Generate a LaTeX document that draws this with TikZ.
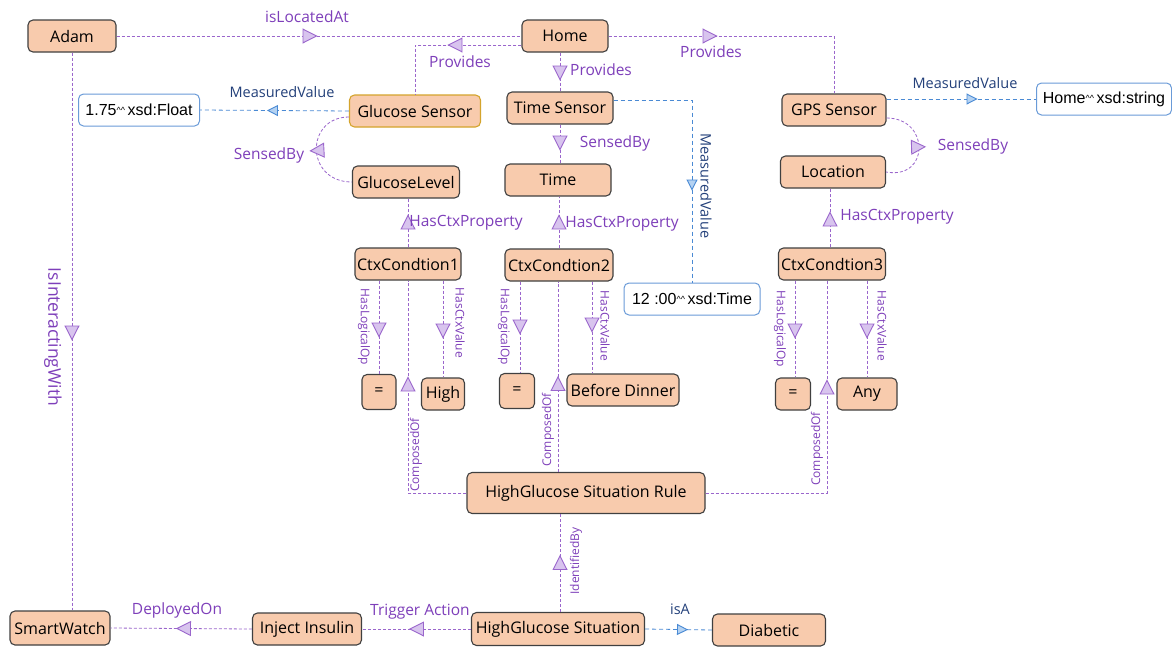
\documentclass[tikz,border=0pt]{standalone}
\usepackage{fontspec}
\setmainfont{Open Sans}
\newfontfamily\litfont{Liberation Sans}
\usetikzlibrary{arrows.meta,decorations.markings}

\definecolor{entityfill}{HTML}{F8CBAD}
\definecolor{entityline}{HTML}{404040}
\definecolor{sensorline}{HTML}{D4A42C}
\definecolor{literalline}{HTML}{6A9BD8}
\definecolor{linkpurple}{HTML}{9A66CC}
\definecolor{textpurple}{HTML}{7E3FBA}
\definecolor{tippurple}{HTML}{D8C4EE}
\definecolor{linkblue}{HTML}{4A8AD4}
\definecolor{tipblue}{HTML}{B4D2F2}
\definecolor{textnavy}{HTML}{23407A}

\newcommand{\dblcaret}{\raisebox{0.25ex}{\fontsize{9}{9}\selectfont\textasciicircum\textasciicircum}\,}

\tikzset{
  entity/.style={rectangle,rounded corners=5pt,draw=entityline,line width=1.1pt,
    fill=entityfill,minimum height=32pt,inner sep=1pt,font=\fontsize{16}{18}\selectfont},
  literal/.style={rectangle,rounded corners=5pt,draw=literalline,line width=1pt,
    fill=white,minimum height=32pt,inner sep=1pt,font=\litfont\fontsize{16}{18}\selectfont},
  ptri/.tip={Triangle[length=15pt,width=15pt,fill=tippurple,line width=0.9pt]},
  btri/.tip={Triangle[length=11pt,width=11pt,fill=tipblue,line width=0.9pt]},
  pedge/.style={draw=linkpurple,line width=0.8pt,densely dashed},
  bedge/.style={draw=linkblue,line width=0.8pt,dash pattern=on 4pt off 3pt},
  ptip/.style={postaction={decorate,decoration={markings,
    mark=at position #1 with {\arrow{ptri}}}}},
  btip/.style={postaction={decorate,decoration={markings,
    mark=at position #1 with {\arrow{btri}}}}},
  arctip/.style={postaction={decorate,decoration={markings,
    mark=at position 0.5 with {\pgftransformrotate{#1}\pgftransformxshift{7pt}\arrow{ptri}}}}},
  plabel/.style={text=textpurple,inner sep=0pt,font=\fontsize{15.5}{17}\selectfont},
  blabel/.style={text=textnavy,inner sep=0pt,font=\fontsize{14.5}{16}\selectfont},
  slabel/.style={text=textpurple,inner sep=0pt,font=\fontsize{12}{14}\selectfont},
}

\begin{document}
\begin{tikzpicture}[x=1pt,y=-1pt]
  \useasboundingbox (0,0) rectangle (1172,648);
  \fill[white] (0,0) rectangle (1172,648);

  % entities
  \node[entity,minimum width=88pt] (adam) at (72,36) {Adam};
  \node[entity,minimum width=86pt] (home) at (565,36) {Home};
  \node[entity,minimum width=131pt,draw=sensorline] (gsensor) at (415,111) {Glucose Sensor};
  \node[entity,minimum width=106pt] (tsensor) at (560,108) {Time Sensor};
  \node[entity,minimum width=104pt] (gpssensor) at (834,110) {GPS Sensor};
  \node[literal,minimum width=121pt] (floatval) at (139,110) {1.75\dblcaret xsd:Float};
  \node[literal,minimum width=135pt] (stringval) at (1104,99) {Home\dblcaret xsd:string};
  \node[entity,minimum width=107pt] (glevel) at (406,182) {GlucoseLevel};
  \node[entity,minimum width=106pt] (timenode) at (558,180) {Time};
  \node[entity,minimum width=105pt] (location) at (833,172) {Location};
  \node[entity,minimum width=106pt] (cond1) at (408,264) {CtxCondtion1};
  \node[entity,minimum width=108pt] (cond2) at (559,265) {CtxCondtion2};
  \node[entity,minimum width=107pt] (cond3) at (832,264) {CtxCondtion3};
  \node[literal,minimum width=136pt] (timeval) at (692,299) {12 :00\dblcaret xsd:Time};
  \node[entity,minimum width=34pt,minimum height=35pt] (op1) at (379,392) {=};
  \node[entity,minimum width=43pt] (val1) at (443,394) {High};
  \node[entity,minimum width=35pt,minimum height=35pt] (op2) at (517,391) {=};
  \node[entity,minimum width=112pt] (val2) at (623,390) {Before Dinner};
  \node[entity,minimum width=35pt] (op3) at (793,394) {=};
  \node[entity,minimum width=60pt] (val3) at (867,394) {Any};
  \node[entity,minimum width=238pt,minimum height=41pt] (rule) at (586,493) {HighGlucose Situation Rule};
  \node[entity,minimum width=100pt,minimum height=34pt] (smartwatch) at (60,628) {SmartWatch};
  \node[entity,minimum width=109pt] (insulin) at (307,629) {Inject Insulin};
  \node[entity,minimum width=173pt,minimum height=33pt] (situation) at (558,629) {HighGlucose Situation};
  \node[entity,minimum width=113pt] (diabetic) at (769,630) {Diabetic};

  % top links
  \draw[pedge,ptip=201pt] (adam.east) -- (home.west);
  \node[plabel] (locatedlbl) at (307,17) {isLocatedAt};
  \draw[pedge,ptip=74pt] ([yshift=-9pt]home.west) -| (gsensor.north);
  \node[plabel] (provlbla) at (460,62) {Provides};
  \draw[pedge,ptip=28pt] (tsensor.north |- home.south) -- (tsensor.north);
  \node[plabel] (provlblb) at (601,70) {Provides};
  \draw[pedge,ptip=109pt] (home.east) -| (gpssensor.north);
  \node[plabel] (provlblc) at (711,52) {Provides};

  % sensors
  \draw[bedge,btip=82pt] (gsensor.west) -- (floatval.east);
  \node[blabel] (measlbla) at (282,92) {MeasuredValue};
  \draw[pedge,arctip=-90] ([yshift=-6pt]gsensor.west) .. controls (305,117) and (305,182) .. (glevel.west);
  \node[plabel] (senslbla) at (269,155) {SensedBy};
  \draw[pedge,ptip=26pt] (tsensor.south) -- (tsensor.south |- timenode.north);
  \node[plabel] (senslblb) at (615,143) {SensedBy};
  \draw[bedge,btip=169pt] ([yshift=8pt]tsensor.east) -| (timeval.north);
  \node[blabel,rotate=-90] (measlblb) at (706,186) {MeasuredValue};
  \draw[pedge,arctip=90] ([yshift=-8pt]gpssensor.east) .. controls (930,118) and (930,180) .. (location.east);
  \node[plabel] (senslblc) at (973,146) {SensedBy};
  \draw[bedge,btip=91pt] (gpssensor.east |- stringval.west) -- (stringval.west);
  \node[blabel] (measlblc) at (965,83) {MeasuredValue};

  % context conditions
  \draw[pedge,ptip=33pt] (cond1.north) -- (cond1.north |- glevel.south);
  \node[plabel] (proplbla) at (466,223) {HasCtxProperty};
  \draw[pedge,ptip=34pt] (cond2.north) -- (cond2.north |- timenode.south);
  \node[plabel] (proplblb) at (622,224) {HasCtxProperty};
  \draw[pedge,ptip=36pt] ([xshift=-2pt]cond3.north) -- ([xshift=-2pt]cond3.north |- location.south);
  \node[plabel] (proplblc) at (897,217) {HasCtxProperty};

  \draw[pedge,ptip=57pt] (op1.north |- cond1.south) -- (op1.north);
  \node[slabel,rotate=-90] (oplbla) at (364,327) {HasLogicalOp};
  \draw[pedge,ptip=58pt] (val1.north |- cond1.south) -- (val1.north);
  \node[slabel,rotate=-90] (vallbla) at (460,323) {HasCtxValue};
  \draw[pedge,ptip=53pt] ([xshift=3pt]op2.north |- cond2.south) -- ([xshift=3pt]op2.north);
  \node[slabel,rotate=-90] (oplblb) at (504,327) {HasLogicalOp};
  \draw[pedge,ptip=51pt] ([xshift=33pt]cond2.south) -- ([xshift=33pt]cond2.south |- val2.north);
  \node[slabel,rotate=-90] (vallblb) at (605,326) {HasCtxValue};
  \draw[pedge,ptip=58pt] ([xshift=2pt]op3.north |- cond3.south) -- ([xshift=2pt]op3.north);
  \node[slabel,rotate=-90] (oplblc) at (780,329) {HasLogicalOp};
  \draw[pedge,ptip=58pt] (val3.north |- cond3.south) -- (val3.north);
  \node[slabel,rotate=-90] (vallblc) at (882,326) {HasCtxValue};

  % rule
  \draw[pedge,ptip=175pt] (rule.west) -| (cond1.south);
  \node[slabel,rotate=90] (complbla) at (416,455) {ComposedOf};
  \draw[pedge,ptip=96pt] ([xshift=-28pt]rule.north) -- ([xshift=-28pt]rule.north |- cond2.south);
  \node[slabel,rotate=90] (complblb) at (548,430) {ComposedOf};
  \draw[pedge,ptip=235pt] (rule.east) -| ([xshift=-5pt]cond3.south);
  \node[slabel,rotate=90] (complblc) at (817,449) {ComposedOf};
  \draw[pedge,ptip=57pt] ([xshift=2pt]situation.north) -- ([xshift=2pt]situation.north |- rule.south);
  \node[slabel,rotate=90] (identlbl) at (576,561) {IdentifiedBy};

  % bottom row
  \draw[pedge,ptip=288pt] (adam.south) -- (adam.south |- smartwatch.north);
  \node[plabel,rotate=-90,font=\fontsize{17.5}{19}\selectfont] (interlbl) at (53,337) {IsInteractingWith};
  \draw[pedge,ptip=62pt] (situation.west) -- (insulin.east);
  \node[plabel] (triglbl) at (420,612) {Trigger Action};
  \draw[pedge,ptip=76pt] (insulin.west) -- (smartwatch.east);
  \node[plabel] (deplbl) at (177,610) {DeployedOn};
  \draw[bedge,btip=43pt] (situation.east) -- (diabetic.west);
  \node[blabel] (isalbl) at (680,609) {isA};
\end{tikzpicture}
\end{document}
